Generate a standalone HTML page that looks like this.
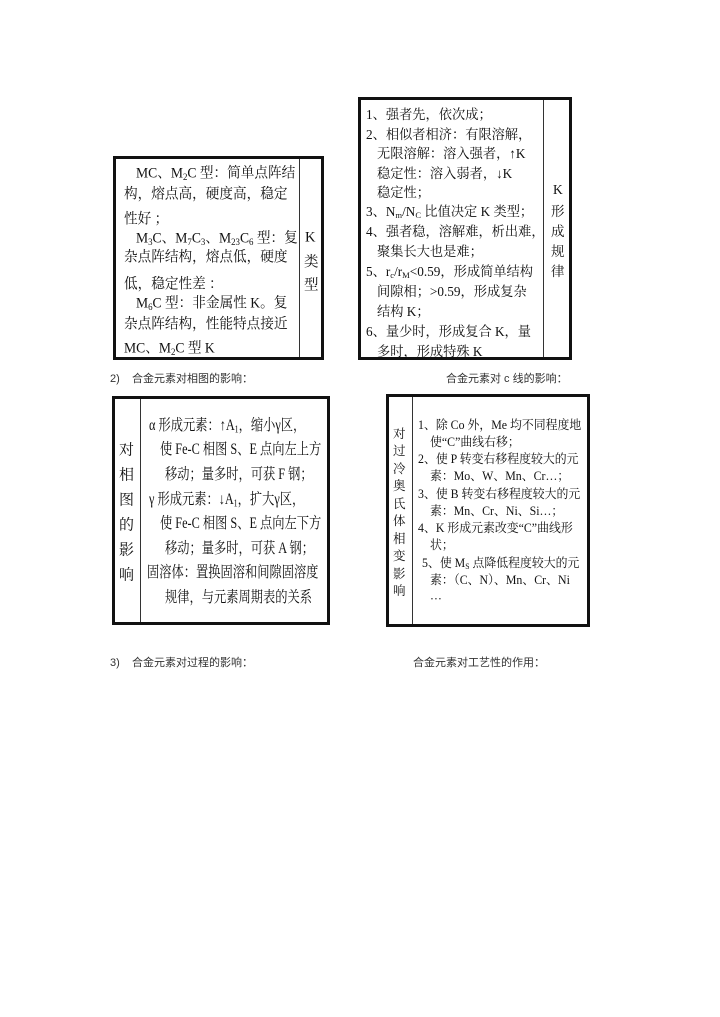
<!DOCTYPE html>
<html><head><meta charset="utf-8"><style>
body{margin:0;background:#fff;}
#p{position:relative;width:720px;height:1017px;overflow:hidden;background:#fff;font-family:"Liberation Serif","Noto Serif CJK SC",serif;color:#111;}
.box{position:absolute;border:3px solid #111;box-sizing:border-box;}
.div{position:absolute;top:0;bottom:0;border-left:1px solid #333;}
.l{position:absolute;white-space:nowrap;transform-origin:0 50%;transform:translateY(-50%) scaleX(var(--s,1));}
.c{position:absolute;white-space:nowrap;font-family:"Liberation Sans","Noto Sans CJK SC",sans-serif;font-size:11px;color:#333;transform:translateY(-50%);}
sub{font-size:0.65em;vertical-align:-0.25em;line-height:0;}
</style></head><body><div id="p">

<!-- Box 1 -->
<div class="box" style="left:113px;top:156px;width:211px;height:204px;"><div class="div" style="left:183px"></div></div>
<div style="font-size:14.5px;--s:0.94">
<div class="l" style="left:136px;top:172px">MC、M<sub>2</sub>C 型：简单点阵结</div>
<div class="l" style="left:124px;top:193px">构，熔点高，硬度高，稳定</div>
<div class="l" style="left:124px;top:218px">性好 ；</div>
<div class="l" style="left:136px;top:237px">M<sub>3</sub>C、M<sub>7</sub>C<sub>3</sub>、M<sub>23</sub>C<sub>6</sub> 型：复</div>
<div class="l" style="left:124px;top:256px">杂点阵结构，熔点低，硬度</div>
<div class="l" style="left:124px;top:283px">低，稳定性差 ：</div>
<div class="l" style="left:136px;top:302px">M<sub>6</sub>C 型：非金属性 K。复</div>
<div class="l" style="left:124px;top:323px">杂点阵结构，性能特点接近</div>
<div class="l" style="left:124px;top:347px">MC、M<sub>2</sub>C 型 K</div>
</div>
<div style="font-size:14.5px;">
<div class="l" style="left:305px;top:238px">K</div>
<div class="l" style="left:304px;top:261px">类</div>
<div class="l" style="left:304px;top:284px">型</div>
</div>

<!-- Box 2 -->
<div class="box" style="left:358px;top:97px;width:214px;height:263px;"><div class="div" style="left:182px"></div></div>
<div style="font-size:13.5px;--s:0.98">
<div class="l" style="left:366px;top:113px">1、强者先，依次成；</div>
<div class="l" style="left:366px;top:133px">2、相似者相济：有限溶解，</div>
<div class="l" style="left:377px;top:152px">无限溶解：溶入强者，↑K</div>
<div class="l" style="left:377px;top:172px">稳定性：溶入弱者，↓K</div>
<div class="l" style="left:377px;top:191px">稳定性；</div>
<div class="l" style="left:366px;top:210px">3、N<sub>m</sub>/N<sub>C</sub> 比值决定 K 类型；</div>
<div class="l" style="left:366px;top:230px">4、强者稳，溶解难，析出难，</div>
<div class="l" style="left:377px;top:250px">聚集长大也是难；</div>
<div class="l" style="left:366px;top:270px">5、r<sub>c</sub>/r<sub>M</sub>&lt;0.59，形成简单结构</div>
<div class="l" style="left:377px;top:290px">间隙相；&gt;0.59，形成复杂</div>
<div class="l" style="left:377px;top:310px">结构 K；</div>
<div class="l" style="left:366px;top:330px">6、量少时，形成复合 K，量</div>
<div class="l" style="left:377px;top:350px">多时，形成特殊 K</div>
</div>
<div style="font-size:13.5px;">
<div class="l" style="left:553px;top:190px">K</div>
<div class="l" style="left:551px;top:210px">形</div>
<div class="l" style="left:551px;top:230px">成</div>
<div class="l" style="left:551px;top:250px">规</div>
<div class="l" style="left:551px;top:270px">律</div>
</div>

<div class="c" style="left:110px;top:378px">2)&nbsp;&nbsp;&nbsp;&nbsp;合金元素对相图的影响：</div>
<div class="c" style="left:446px;top:378px">合金元素对 c 线的影响：</div>

<!-- Box 3 -->
<div class="box" style="left:112px;top:396px;width:218px;height:229px;"><div class="div" style="left:25px"></div></div>
<div style="font-size:15.5px;--s:0.79">
<div class="l" style="left:149px;top:424px">α 形成元素：↑A<sub>1</sub>，缩小γ区，</div>
<div class="l" style="left:160px;top:448px">使 Fe-C 相图 S、E 点向左上方</div>
<div class="l" style="left:165px;top:473px">移动；量多时，可获 F 钢；</div>
<div class="l" style="left:149px;top:498px">γ 形成元素：↓A<sub>1</sub>，扩大γ区，</div>
<div class="l" style="left:160px;top:522px">使 Fe-C 相图 S、E 点向左下方</div>
<div class="l" style="left:165px;top:547px">移动；量多时，可获 A 钢；</div>
<div class="l" style="left:147px;top:571px">固溶体：置换固溶和间隙固溶度</div>
<div class="l" style="left:165px;top:596px">规律，与元素周期表的关系</div>
</div>
<div style="font-size:15px;">
<div class="l" style="left:119px;top:449px">对</div>
<div class="l" style="left:119px;top:474px">相</div>
<div class="l" style="left:119px;top:499px">图</div>
<div class="l" style="left:119px;top:524px">的</div>
<div class="l" style="left:119px;top:549px">影</div>
<div class="l" style="left:119px;top:574px">响</div>
</div>

<!-- Box 4 -->
<div class="box" style="left:386px;top:394px;width:204px;height:233px;"><div class="div" style="left:23px"></div></div>
<div style="font-size:12.5px;--s:0.95">
<div class="l" style="left:418px;top:424px">1、除 Co 外，Me 均不同程度地</div>
<div class="l" style="left:430px;top:441px">使“C”曲线右移；</div>
<div class="l" style="left:418px;top:458px">2、使 P 转变右移程度较大的元</div>
<div class="l" style="left:430px;top:475px">素：Mo、W、Mn、Cr…；</div>
<div class="l" style="left:418px;top:493px">3、使 B 转变右移程度较大的元</div>
<div class="l" style="left:430px;top:510px">素：Mn、Cr、Ni、Si…；</div>
<div class="l" style="left:418px;top:527px">4、K 形成元素改变“C”曲线形</div>
<div class="l" style="left:430px;top:544px">状；</div>
<div class="l" style="left:422px;top:562px">5、使 M<sub>S</sub> 点降低程度较大的元</div>
<div class="l" style="left:430px;top:579px">素：（C、N）、Mn、Cr、Ni</div>
<div class="l" style="left:430px;top:596px">…</div>
</div>
<div style="font-size:12.5px;">
<div class="l" style="left:393px;top:433px">对</div>
<div class="l" style="left:393px;top:450px">过</div>
<div class="l" style="left:393px;top:468px">冷</div>
<div class="l" style="left:393px;top:485px">奥</div>
<div class="l" style="left:393px;top:503px">氏</div>
<div class="l" style="left:393px;top:520px">体</div>
<div class="l" style="left:393px;top:538px">相</div>
<div class="l" style="left:393px;top:555px">变</div>
<div class="l" style="left:393px;top:573px">影</div>
<div class="l" style="left:393px;top:590px">响</div>
</div>

<div class="c" style="left:110px;top:662px">3)&nbsp;&nbsp;&nbsp;&nbsp;合金元素对过程的影响：</div>
<div class="c" style="left:413px;top:662px">合金元素对工艺性的作用：</div>

</div></body></html>
